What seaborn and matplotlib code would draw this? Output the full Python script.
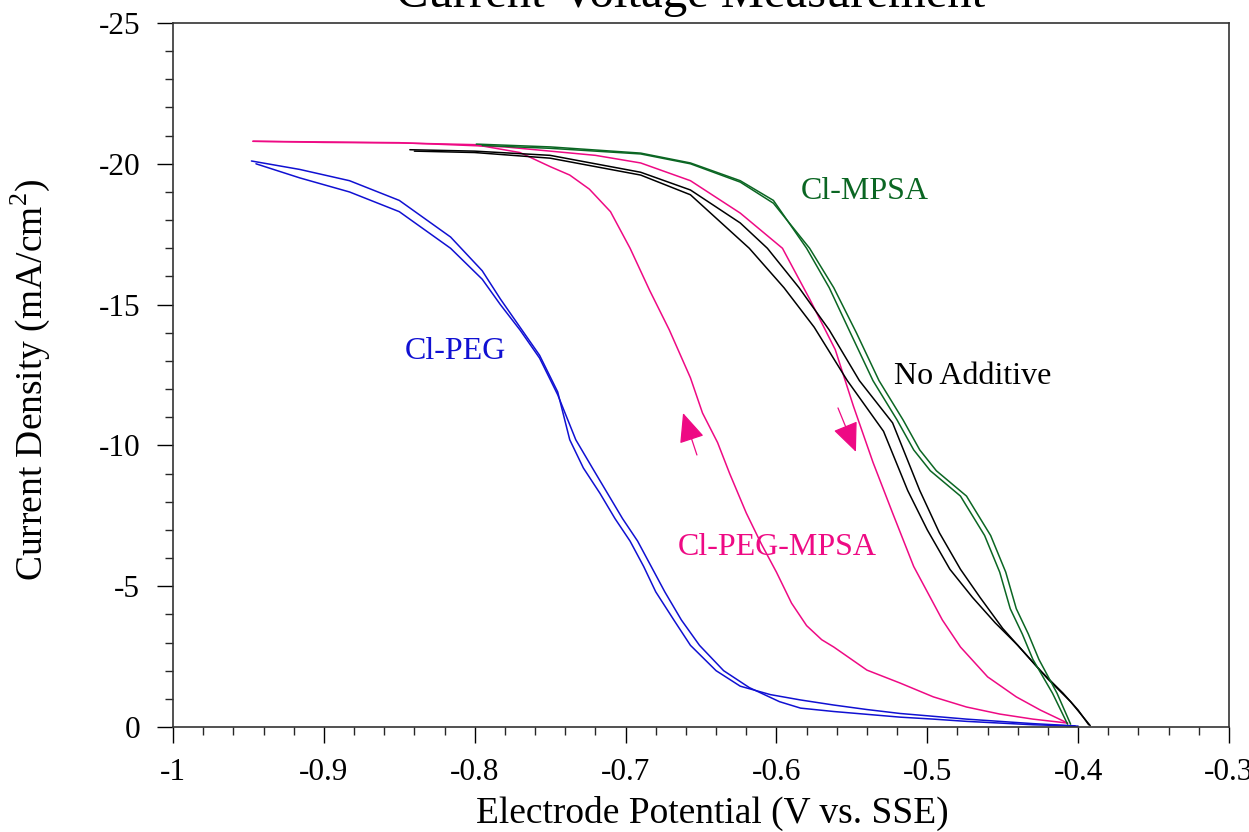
import numpy as np
import pandas as pd
import matplotlib
matplotlib.use("Agg")
import matplotlib.pyplot as plt
from matplotlib.ticker import MultipleLocator, FuncFormatter
import seaborn as sns

# ---- polarization sweeps (potential in V vs. SSE, current density in mA/cm^2) ----
# Cl-PEG: two sweeps
peg_a_v = [-0.948, -0.916, -0.883, -0.850, -0.816, -0.795, -0.783, -0.770, -0.757, -0.745,
           -0.737, -0.728, -0.717, -0.707, -0.697, -0.688, -0.680, -0.668, -0.657, -0.640,
           -0.624, -0.604, -0.584, -0.562, -0.540, -0.518, -0.496, -0.474, -0.452, -0.430, -0.402]
peg_a_i = [-20.1, -19.8, -19.4, -18.7, -17.4, -16.2, -15.2, -14.2, -13.2, -11.9,
           -10.2, -9.2, -8.3, -7.4, -6.6, -5.7, -4.8, -3.8, -2.9, -2.0,
           -1.45, -1.15, -0.96, -0.78, -0.62, -0.48, -0.38, -0.28, -0.20, -0.12, -0.04]
peg_b_v = [-0.945, -0.916, -0.883, -0.850, -0.816, -0.795, -0.783, -0.770, -0.757, -0.745,
           -0.733, -0.722, -0.712, -0.702, -0.692, -0.683, -0.674, -0.663, -0.651, -0.635,
           -0.618, -0.598, -0.584, -0.562, -0.540, -0.518, -0.496, -0.474, -0.452, -0.430, -0.400]
peg_b_i = [-20.0, -19.5, -19.0, -18.3, -17.0, -15.9, -15.0, -14.1, -13.1, -11.8,
           -10.2, -9.2, -8.3, -7.4, -6.6, -5.7, -4.8, -3.8, -2.9, -2.0,
           -1.4, -0.9, -0.67, -0.55, -0.45, -0.35, -0.28, -0.20, -0.14, -0.08, -0.03]

# Cl-PEG-MPSA: cathodic sweep and return sweep
pm_a_v = [-0.947, -0.900, -0.850, -0.800, -0.770, -0.750, -0.737, -0.724, -0.710, -0.697,
          -0.684, -0.671, -0.657, -0.649, -0.639, -0.631, -0.620, -0.610, -0.600, -0.590,
          -0.580, -0.570, -0.562, -0.540, -0.518, -0.496, -0.474, -0.452, -0.430, -0.407]
pm_a_i = [-20.8, -20.76, -20.74, -20.68, -20.4, -19.9, -19.6, -19.1, -18.3, -17.0,
          -15.5, -14.1, -12.4, -11.15, -10.1, -9.0, -7.6, -6.5, -5.5, -4.4,
          -3.6, -3.1, -2.84, -2.02, -1.56, -1.07, -0.71, -0.46, -0.28, -0.14]
pm_b_v = [-0.947, -0.850, -0.780, -0.750, -0.720, -0.690, -0.657, -0.624, -0.596, -0.578,
          -0.561, -0.549, -0.536, -0.523, -0.509, -0.490, -0.478, -0.460, -0.441, -0.425, -0.407]
pm_b_i = [-20.8, -20.75, -20.6, -20.45, -20.3, -20.03, -19.4, -18.25, -17.0, -15.2,
          -13.4, -11.4, -9.4, -7.6, -5.7, -3.8, -2.84, -1.78, -1.07, -0.6, -0.14]

# No additive
na_a_v = [-0.843, -0.800, -0.750, -0.690, -0.657, -0.624, -0.606, -0.585, -0.565, -0.545,
          -0.523, -0.505, -0.492, -0.478, -0.465, -0.450, -0.435, -0.420, -0.405, -0.392]
na_a_i = [-20.5, -20.45, -20.3, -19.7, -19.07, -17.9, -17.0, -15.6, -14.1, -12.3,
          -10.8, -8.4, -6.9, -5.6, -4.6, -3.5, -2.6, -1.7, -0.9, -0.05]
na_b_v = [-0.840, -0.800, -0.750, -0.690, -0.657, -0.618, -0.595, -0.575, -0.553, -0.529,
          -0.513, -0.500, -0.485, -0.470, -0.455, -0.440, -0.425, -0.410, -0.400, -0.393]
na_b_i = [-20.45, -20.4, -20.2, -19.6, -18.9, -17.0, -15.6, -14.2, -12.3, -10.5,
          -8.4, -7.0, -5.6, -4.6, -3.7, -2.9, -2.0, -1.2, -0.6, -0.08]

# Cl-MPSA
mp_a_v = [-0.799, -0.750, -0.690, -0.657, -0.624, -0.602, -0.580, -0.565, -0.551, -0.536,
          -0.520, -0.509, -0.498, -0.478, -0.462, -0.452, -0.445, -0.437, -0.430, -0.417, -0.407]
mp_a_i = [-20.7, -20.6, -20.38, -20.03, -19.4, -18.7, -17.0, -15.6, -14.0, -12.3,
          -10.9, -9.84, -9.1, -8.2, -6.8, -5.5, -4.2, -3.3, -2.4, -1.2, -0.1]
mp_b_v = [-0.795, -0.750, -0.690, -0.657, -0.624, -0.602, -0.578, -0.562, -0.547, -0.532,
          -0.516, -0.505, -0.494, -0.474, -0.458, -0.448, -0.441, -0.433, -0.426, -0.414, -0.405]
mp_b_i = [-20.65, -20.55, -20.35, -20.0, -19.35, -18.6, -17.0, -15.6, -14.0, -12.3,
          -10.9, -9.84, -9.1, -8.2, -6.8, -5.5, -4.2, -3.3, -2.4, -1.2, -0.1]

BLUE = "#1010D2"
PINK = "#EE0A84"
BLACK = "#000000"
GREEN = "#0B6623"

sweeps = [
    (peg_a_v, peg_a_i, BLUE), (peg_b_v, peg_b_i, BLUE),
    (pm_a_v, pm_a_i, PINK), (pm_b_v, pm_b_i, PINK),
    (na_a_v, na_a_i, BLACK), (na_b_v, na_b_i, BLACK),
    (mp_a_v, mp_a_i, GREEN), (mp_b_v, mp_b_i, GREEN),
]

sns.set_style("ticks")
plt.rcParams["font.family"] = ["Liberation Serif", "DejaVu Serif"]
plt.rcParams["mathtext.fontset"] = "custom"
plt.rcParams["mathtext.rm"] = "Liberation Serif"
plt.rcParams["axes.unicode_minus"] = False
plt.rcParams["text.color"] = "black"
plt.rcParams["axes.labelcolor"] = "black"

fig = plt.figure(figsize=(12.49, 8.32), dpi=100)
ax = fig.add_axes([173 / 1249, 1 - 727 / 832, (1229 - 173) / 1249, (727 - 23) / 832])

for v, i, c in sweeps:
    df = pd.DataFrame({"V": v, "I": i})
    sns.lineplot(data=df, x="V", y="I", sort=False, estimator=None,
                 color=c, lw=1.1, ax=ax)

ax.set_xlim(-1.0, -0.3)
ax.set_ylim(0, -25)

ax.xaxis.set_major_locator(MultipleLocator(0.1))
ax.xaxis.set_minor_locator(MultipleLocator(0.02))
ax.yaxis.set_major_locator(MultipleLocator(5))
ax.yaxis.set_minor_locator(MultipleLocator(1))
fmt = FuncFormatter(lambda val, pos: "%g" % round(val, 3))
ax.xaxis.set_major_formatter(fmt)
ax.yaxis.set_major_formatter(fmt)

ax.tick_params(which="major", direction="out", length=11.5, width=1.0,
               labelsize=22.5, colors="#000000", top=False, right=False)
ax.tick_params(which="minor", direction="out", length=5.5, width=1.0,
               top=False, right=False)
ax.tick_params(axis="x", which="major", pad=11)
ax.tick_params(axis="y", which="major", pad=12)

for side in ["left", "right", "top", "bottom"]:
    ax.spines[side].set_visible(True)
    ax.spines[side].set_linewidth(1.2)
    ax.spines[side].set_color("#333333")

ax.set_xlabel("Electrode Potential (V vs. SSE)", fontsize=27, color="black")
ax.set_ylabel(r"Current Density (mA/cm$^{\mathrm{2}}$)", fontsize=27, color="black")
ax.xaxis.set_label_coords(0.5 + 11 / 1056, -104 / 704, transform=ax.transAxes)
ax.xaxis.label.set_va("bottom")
ax.yaxis.set_label_coords(-121 / 1056, 0.493, transform=ax.transAxes)

fig.text(691 / 1249, 1 - 7 / 832, "Current-Voltage Measurement", fontsize=35,
         ha="center", va="baseline", color="black")

ax.text(-0.5413, -19.03, "Cl-MPSA", color=GREEN, fontsize=23, ha="center", va="center")
ax.text(-0.4697, -12.43, "No Additive", color=BLACK, fontsize=23, ha="center", va="center")
ax.text(-0.8131, -13.32, "Cl-PEG", color=BLUE, fontsize=23, ha="center", va="center")
ax.text(-0.5996, -6.39, "Cl-PEG-MPSA", color=PINK, fontsize=23, ha="center", va="center")

arrow_style = "-|>,head_length=0.8,head_width=0.35"
ax.annotate("", xy=(-0.6619, -11.15), xytext=(-0.6527, -9.66),
            arrowprops=dict(arrowstyle=arrow_style, color=PINK, lw=0.9,
                            mutation_scale=23, shrinkA=0, shrinkB=0))
ax.annotate("", xy=(-0.5473, -9.77), xytext=(-0.5592, -11.33),
            arrowprops=dict(arrowstyle=arrow_style, color=PINK, lw=0.9,
                            mutation_scale=23, shrinkA=0, shrinkB=0))

fig.savefig("out.png", dpi=100)
